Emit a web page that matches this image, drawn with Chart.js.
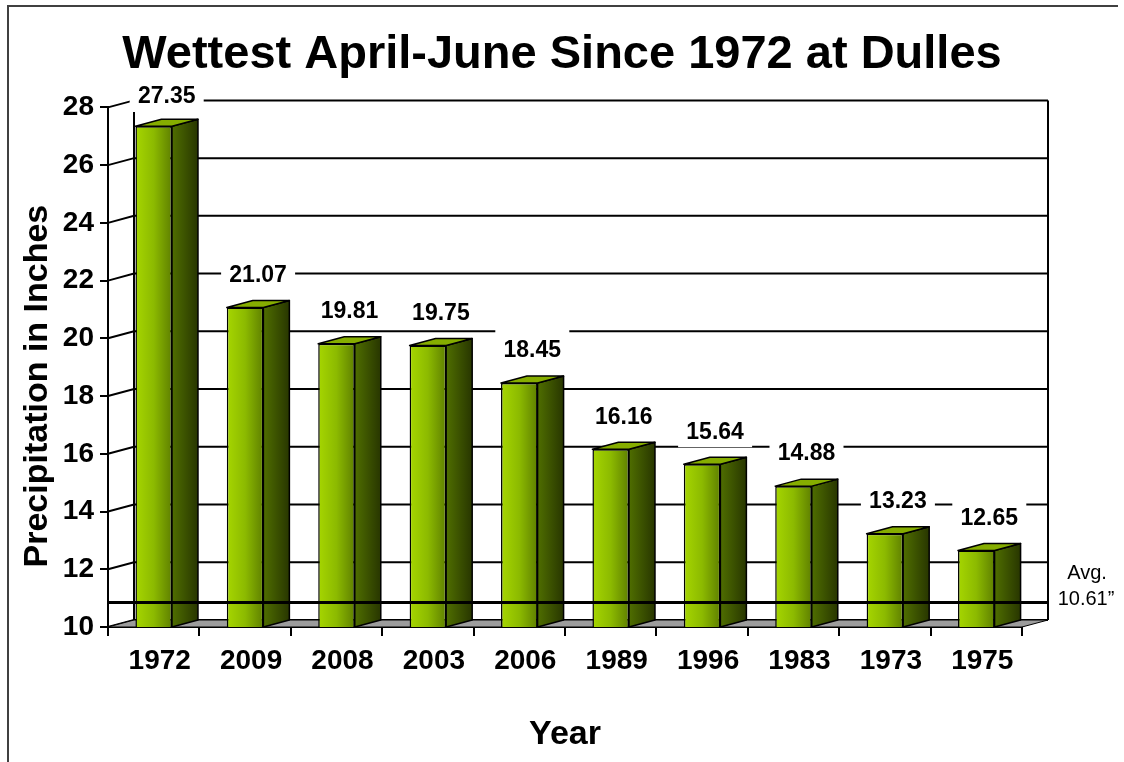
<!DOCTYPE html>
<html>
<head>
<meta charset="utf-8">
<title>Wettest April-June Since 1972 at Dulles</title>
<script src="https://cdn.jsdelivr.net/npm/chart.js@4.4.1/dist/chart.umd.min.js"></script>
<style>
  html, body { margin: 0; padding: 0; background: #fff; }
  #wrap { width: 1124px; height: 762px; }
</style>
</head>
<body>
<div id="wrap"><canvas id="rainChart" width="1124" height="762"></canvas></div>
<script>
// data
const years = ["1972", "2009", "2008", "2003", "2006", "1989", "1996", "1983", "1973", "1975"];
const precip = [27.35, 21.07, 19.81, 19.75, 18.45, 16.16, 15.64, 14.88, 13.23, 12.65];
const yMin = 10;
const yMax = 28;
const yStep = 2;
const avgValue = 10.61;
const avgLabel = ["Avg.", "10.61\u201d"];

// depth of the fake 3d box
const DX = 26;
const DY = -7;
const FONT = "'Liberation Sans', Arial, sans-serif";

function frontFill(ctx) {
    const chart = ctx.chart;
    const xs = chart.scales.x;
    if (!chart.chartArea || !xs || ctx.dataIndex === undefined) return "#8ab800";
    const cx = xs.getPixelForValue(ctx.dataIndex);
    const w = xs.width / years.length * 0.4;
    if (!isFinite(cx)) return "#8ab800";
    const g = chart.ctx.createLinearGradient(cx - w / 2, 0, cx + w / 2, 0);
    g.addColorStop(0, "#a6d600");
    g.addColorStop(0.5, "#8cba00");
    g.addColorStop(1, "#5f8000");
    return g;
}

// frame, back wall, floor, side + top faces, average line, value labels
const boxPlugin = {
    id: "box3d",
    beforeDraw(chart) {
        const c = chart.ctx;
        c.save();
        c.strokeStyle = "#404040";
        c.lineWidth = 2;
        c.beginPath();
        c.moveTo(8, 762);
        c.lineTo(8, 6);
        c.lineTo(1118, 6);
        c.stroke();
        c.restore();
    },
    beforeDatasetsDraw(chart) {
        const c = chart.ctx;
        const ys = chart.scales.y;
        const a = chart.chartArea;
        const top = ys.getPixelForValue(yMax);
        const bot = ys.getPixelForValue(yMin);
        c.save();
        c.strokeStyle = "#000";
        c.lineWidth = 2;
        // back wall lines + left wall diagonals
        for (let v = yMin; v <= yMax; v += yStep) {
            const y = ys.getPixelForValue(v);
            c.beginPath();
            c.moveTo(a.left, y);
            c.lineTo(a.left + DX, y + DY);
            c.lineTo(a.right + DX, y + DY);
            c.stroke();
        }
        c.beginPath();
        c.moveTo(a.left + DX, top + DY);
        c.lineTo(a.left + DX, bot + DY);
        c.moveTo(a.right + DX, top + DY);
        c.lineTo(a.right + DX, bot + DY);
        c.stroke();
        // floor
        c.beginPath();
        c.moveTo(a.left, bot);
        c.lineTo(a.right, bot);
        c.lineTo(a.right + DX, bot + DY);
        c.lineTo(a.left + DX, bot + DY);
        c.closePath();
        c.fillStyle = "#9c9c9c";
        c.fill();
        c.lineWidth = 1;
        c.stroke();
        c.restore();
    },
    afterDatasetsDraw(chart) {
        const c = chart.ctx;
        const ys = chart.scales.y;
        const a = chart.chartArea;
        const base = ys.getPixelForValue(yMin);
        const meta = chart.getDatasetMeta(0);
        c.save();
        c.strokeStyle = "#000";
        c.lineWidth = 1.5;
        c.lineJoin = "round";
        meta.data.forEach(function (bar) {
            const p = bar.getProps(["x", "y", "width"], true);
            const l = p.x - p.width / 2;
            const r = p.x + p.width / 2;
            // side face
            const gs = c.createLinearGradient(r, 0, r + DX, 0);
            gs.addColorStop(0, "#4f6e00");
            gs.addColorStop(1, "#283600");
            c.beginPath();
            c.moveTo(r, p.y);
            c.lineTo(r + DX, p.y + DY);
            c.lineTo(r + DX, base + DY);
            c.lineTo(r, base);
            c.closePath();
            c.fillStyle = gs;
            c.fill();
            c.stroke();
            // top face
            c.beginPath();
            c.moveTo(l, p.y);
            c.lineTo(r, p.y);
            c.lineTo(r + DX, p.y + DY);
            c.lineTo(l + DX, p.y + DY);
            c.closePath();
            c.fillStyle = "#86ad00";
            c.fill();
            c.stroke();
        });

        // average line on the back wall
        const ya = ys.getPixelForValue(avgValue) + DY;
        c.beginPath();
        c.moveTo(a.left, ya);
        c.lineTo(a.right + DX, ya);
        c.lineWidth = 3;
        c.stroke();
        c.fillStyle = "#000";
        c.font = "20px " + FONT;
        c.textAlign = "center";
        c.textBaseline = "middle";
        c.fillText(avgLabel[0], 1087, ya - 29);
        c.fillText(avgLabel[1], 1086, ya - 3);

        // value labels
        c.font = "bold 23px " + FONT;
        meta.data.forEach(function (bar, i) {
            const p = bar.getProps(["x", "y"], true);
            const lx = p.x + 13;
            const ly = Math.max(p.y - 32, 97);
            c.fillStyle = "#fff";
            c.fillRect(lx - 37, ly - 22, 74, 37);
            c.fillStyle = "#000";
            c.fillText(precip[i].toFixed(2), lx, ly);
        });
        c.restore();
    }
};

const rainChart = new Chart(document.getElementById("rainChart"), {
    type: "bar",
    data: {
        labels: years,
        datasets: [
            {
                label: "Precipitation",
                data: precip,
                backgroundColor: frontFill,
                borderColor: "#000",
                borderWidth: 1.5,
                borderSkipped: false,
                barPercentage: 0.4,
                categoryPercentage: 1.0,
            },
        ],
    },
    options: {
        responsive: false,
        animation: false,
        devicePixelRatio: 1,
        layout: { padding: { top: 4, right: 0, bottom: 0, left: 0 } },
        plugins: {
            legend: { display: false },
            tooltip: { enabled: false },
            title: {
                display: true,
                text: "Wettest April-June Since 1972 at Dulles",
                color: "#000",
                font: { family: FONT, size: 47, weight: "bold" },
                padding: { top: 23, bottom: 24 },
            },
        },
        scales: {
            x: {
                grid: { offset: true, drawOnChartArea: false, tickLength: 9, color: "#000", lineWidth: 2 },
                border: { display: true, color: "#000", width: 2 },
                ticks: {
                    color: "#000",
                    padding: 8,
                    labelOffset: 6,
                    maxRotation: 0,
                    font: { family: FONT, size: 28, weight: "bold" },
                },
                title: {
                    display: true,
                    text: "Year",
                    color: "#000",
                    padding: { top: 0, bottom: 7 },
                    font: { family: FONT, size: 34, weight: "bold" },
                },
                afterFit(scale) { scale.height = 135; },
            },
            y: {
                min: yMin,
                max: yMax,
                grid: { drawOnChartArea: false, tickLength: 8, color: "#000", lineWidth: 2 },
                border: { display: true, color: "#000", width: 2 },
                ticks: {
                    stepSize: yStep,
                    color: "#000",
                    padding: 6,
                    font: { family: FONT, size: 28, weight: "bold" },
                },
                title: {
                    display: true,
                    text: "Precipitation in Inches    ",
                    color: "#000",
                    padding: { top: 17, bottom: 0 },
                    font: { family: FONT, size: 34, weight: "bold" },
                },
                afterFit(scale) { scale.width = 108; },
            },
            // empty strip on the right that holds the back wall and the Avg. note
            side: {
                position: "right",
                grid: { display: false },
                border: { display: false },
                ticks: { display: false },
                afterFit(scale) { scale.width = 102; },
            },
        },
    },
    plugins: [boxPlugin],
});
</script>
</body>
</html>
